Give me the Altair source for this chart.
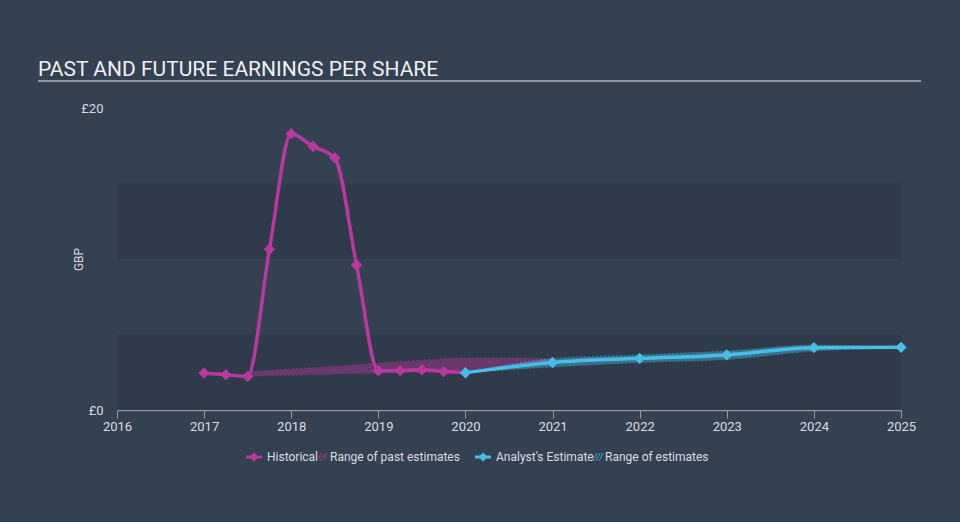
import altair as alt
import pandas as pd

# ---- data ----
hist_x = [2017.0, 2017.25, 2017.5, 2017.75, 2018.0, 2018.25, 2018.5, 2018.75,
          2019.0, 2019.25, 2019.5, 2019.75, 2020.0]
hist_y = [2.45, 2.33, 2.23, 10.65, 18.3, 17.45, 16.7, 9.6,
          2.6, 2.62, 2.66, 2.55, 2.47]

past_x = [2017.5, 2018.0, 2018.5, 2019.0, 2019.5, 2020.0, 2020.5, 2021.0]
past_low = [2.25, 2.3, 2.38, 2.45, 2.5, 2.47, 2.8, 3.15]
past_high = [2.55, 2.72, 2.9, 3.1, 3.3, 3.45, 3.45, 3.4]

est_x = [2020, 2021, 2022, 2023, 2024, 2025]
est_y = [2.47, 3.15, 3.42, 3.65, 4.13, 4.15]
est_low = [2.47, 2.85, 3.15, 3.35, 3.9, 4.15]
est_high = [2.47, 3.4, 3.65, 3.9, 4.3, 4.15]

band_lo = [0, 10]
band_hi = [5, 15]

x_ticks = [2016, 2017, 2018, 2019, 2020, 2021, 2022, 2023, 2024, 2025]
y_ticks = [0, 20]

TITLE = "PAST AND FUTURE EARNINGS PER SHARE"
MAG = "#b8389f"
BLUE = "#48bde6"
BG = "#344151"
BAND = "#2f3b4a"
TXT = "#d9dde1"

hist = pd.DataFrame({"x": hist_x, "y": hist_y})
hist_pts = hist.iloc[:-1]
past = pd.DataFrame({"x": past_x, "lo": past_low, "hi": past_high})
est = pd.DataFrame({"x": est_x, "y": est_y, "lo": est_low, "hi": est_high})
bands = pd.DataFrame({"lo": band_lo, "hi": band_hi})

W, H = 784, 302
xs = alt.Scale(domain=[2016, 2025], nice=False, zero=False)
ys = alt.Scale(domain=[0, 20], nice=False)

xaxis = alt.Axis(values=x_ticks, format="d", grid=False, domainColor="#8f99a4",
                 tickColor="#8f99a4", tickSize=8, labelColor=TXT, labelFontSize=13,
                 labelFont="Roboto", labelPadding=2, title=None, domainWidth=1.5,
                 labelFlush=False, labelBound=False, labelOverlap=False)
yaxis = alt.Axis(values=y_ticks, labelExpr="'£' + datum.value", grid=False, domain=False,
                 ticks=False, labelColor=TXT, labelFontSize=13, labelFont="Roboto",
                 labelPadding=14, title="GBP", titleColor=TXT, titleFontSize=12,
                 titleFont="Roboto", titleFontWeight="normal", titleX=-32, titleY=151)

bg = alt.Chart(bands).mark_rect(color=BAND).encode(
    x=alt.value(0), x2=alt.value(W),
    y=alt.Y("lo:Q", scale=ys, axis=yaxis), y2="hi:Q")

past_area = alt.Chart(past).mark_area(interpolate="monotone", color=MAG, opacity=0.42,
                                      stroke=MAG, strokeWidth=1, strokeDash=[2, 2]).encode(
    x=alt.X("x:Q", scale=xs, axis=xaxis), y=alt.Y("lo:Q", scale=ys), y2="hi:Q")

est_area = alt.Chart(est).mark_area(interpolate="monotone", color=BLUE, opacity=0.42,
                                    stroke=BLUE, strokeWidth=1, strokeDash=[2, 2]).encode(
    x=alt.X("x:Q", scale=xs), y=alt.Y("lo:Q", scale=ys), y2="hi:Q")

hist_line = alt.Chart(hist).mark_line(interpolate="monotone", color=MAG, strokeWidth=3.5).encode(
    x=alt.X("x:Q", scale=xs), y=alt.Y("y:Q", scale=ys))
hist_point = alt.Chart(hist_pts).mark_point(shape="diamond", filled=True, color=MAG,
                                            size=130, opacity=1).encode(
    x=alt.X("x:Q", scale=xs), y=alt.Y("y:Q", scale=ys))

est_line = alt.Chart(est).mark_line(interpolate="monotone", color=BLUE, strokeWidth=3.5).encode(
    x=alt.X("x:Q", scale=xs), y=alt.Y("y:Q", scale=ys))
est_point = alt.Chart(est).mark_point(shape="diamond", filled=True, color=BLUE,
                                      size=130, opacity=1).encode(
    x=alt.X("x:Q", scale=xs), y=alt.Y("y:Q", scale=ys))

# title & underline
title = alt.Chart(pd.DataFrame({"t": [TITLE]})).mark_text(
    align="left", baseline="alphabetic", font="Roboto", fontSize=21, color="#eef0f2").encode(
    x=alt.value(-79), y=alt.value(-32), text="t:N")
underline = alt.Chart(pd.DataFrame({"a": [0]})).mark_rule(color="#9099a3", strokeWidth=2).encode(
    x=alt.value(-79), x2=alt.value(804), y=alt.value(-27))

# legend
LY = 349
leg_items = [
    ("Historical", 150, MAG),
    ("Range of past estimates", 213, MAG),
    ("Analyst's Estimate", 379, BLUE),
    ("Range of estimates", 488, BLUE),
]
legend_layers = []
for label, lx, col in leg_items:
    legend_layers.append(alt.Chart(pd.DataFrame({"t": [label]})).mark_text(
        align="left", baseline="middle", font="Roboto", fontSize=12, color=TXT).encode(
        x=alt.value(lx), y=alt.value(LY), text="t:N"))
sym_line = [(129, 145, MAG), (358, 374, BLUE)]
for a, b, col in sym_line:
    legend_layers.append(alt.Chart(pd.DataFrame({"a": [0]})).mark_rule(color=col, strokeWidth=3).encode(
        x=alt.value(a), x2=alt.value(b), y=alt.value(LY)))
    legend_layers.append(alt.Chart(pd.DataFrame({"a": [0]})).mark_point(
        shape="diamond", filled=True, color=col, size=80, opacity=1).encode(
        x=alt.value((a + b) / 2), y=alt.value(LY)))
for hx, col in [(205, MAG), (481, BLUE)]:
    for off in (-3, 0, 3):
        legend_layers.append(alt.Chart(pd.DataFrame({"a": [0]})).mark_rule(
            color=col, strokeWidth=1, opacity=0.8).encode(
            x=alt.value(hx + off - 2), x2=alt.value(hx + off + 2),
            y=alt.value(LY + 4), y2=alt.value(LY - 4)))

chart = alt.layer(bg, past_area, est_area, hist_line, est_line, hist_point, est_point,
                  title, underline, *legend_layers).properties(
    width=W, height=H, background=BG,
    padding={"left": 117, "top": 108, "right": 59, "bottom": 112},
    autosize=alt.AutoSizeParams(type="none"),
).configure_view(stroke=None)

chart.save("out.html", embed_options={"renderer": "svg", "actions": False})
